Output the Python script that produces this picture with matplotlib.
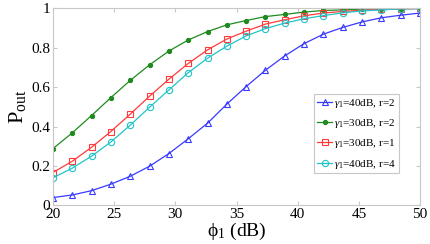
import numpy as np
import matplotlib
matplotlib.use("Agg")
import matplotlib.pyplot as plt

plt.rcParams['font.family'] = ['Liberation Serif', 'DejaVu Serif']
plt.rcParams['mathtext.fontset'] = 'custom'
plt.rcParams['mathtext.rm'] = 'Liberation Serif'
plt.rcParams['mathtext.it'] = 'Liberation Serif:italic'

phi = np.linspace(20, 50, 20)

blue = [0.040, 0.053, 0.075, 0.108, 0.148, 0.199, 0.263, 0.338, 0.417, 0.514,
        0.603, 0.686, 0.759, 0.821, 0.869, 0.903, 0.931, 0.952, 0.965, 0.976]
green = [0.288, 0.368, 0.456, 0.547, 0.634, 0.713, 0.783, 0.839, 0.882, 0.916,
         0.938, 0.958, 0.969, 0.981, 0.989, 0.992, 0.996, 0.997, 0.998, 0.999]
red = [0.167, 0.224, 0.295, 0.375, 0.463, 0.554, 0.640, 0.720, 0.789, 0.844,
       0.884, 0.920, 0.942, 0.962, 0.976, 0.984, 0.990, 0.994, 0.997, 0.999]
cyan = [0.140, 0.189, 0.250, 0.322, 0.407, 0.498, 0.586, 0.673, 0.747, 0.808,
        0.860, 0.897, 0.925, 0.947, 0.963, 0.977, 0.987, 0.992, 0.997, 0.999]

labels = [r'$\gamma_1$=40dB, r=2', r'$\gamma_1$=30dB, r=2',
          r'$\gamma_1$=30dB, r=1', r'$\gamma_1$=40dB, r=4']

fig = plt.figure(figsize=(4.3, 2.44), dpi=100)
ax = fig.add_axes([0.123, 0.158, 0.854, 0.808])

lw = 0.9
ax.plot(phi, blue, color='#3a3aff', lw=lw, marker='^', ms=4.5, mfc='none', mew=0.8, label=labels[0])
ax.plot(phi, green, color='#1f8a1f', lw=lw, marker='o', ms=3, mfc='#1f8a1f', mew=0.8, label=labels[1])
ax.plot(phi, red, color='#ff3b3b', lw=lw, marker='s', ms=4.5, mfc='none', mew=0.8, label=labels[2])
ax.plot(phi, cyan, color='#20c4c8', lw=lw, marker='o', ms=4.5, mfc='none', mew=0.8, label=labels[3])

ax.set_xlim(20, 50)
ax.set_ylim(0, 1)
ax.set_xticks([20, 25, 30, 35, 40, 45, 50])
ax.set_yticks([0, 0.2, 0.4, 0.6, 0.8, 1])
ax.set_yticklabels(['0', '0.2', '0.4', '0.6', '0.8', '1'])
ax.tick_params(direction='in', top=True, right=True, color='#c8c8c8', labelsize=11, length=3, pad=2)
for s in ax.spines.values():
    s.set_color('#c8c8c8')
    s.set_linewidth(0.8)

ax.set_ylabel(r'$\mathrm{P}_{\mathrm{out}}$', fontsize=16, labelpad=2)
ax.set_xlabel(r'ϕ$_1$ (dB)', fontsize=14, labelpad=0)

leg = ax.legend(loc='upper left', bbox_to_anchor=(0.711, 0.565), fontsize=8,
                fancybox=False, edgecolor='#c8c8c8', framealpha=1,
                handlelength=1.4, handletextpad=0.15, borderpad=0.25,
                labelspacing=0.65, borderaxespad=0)
leg.get_frame().set_linewidth(0.8)

fig.savefig('out.png', dpi=100)
